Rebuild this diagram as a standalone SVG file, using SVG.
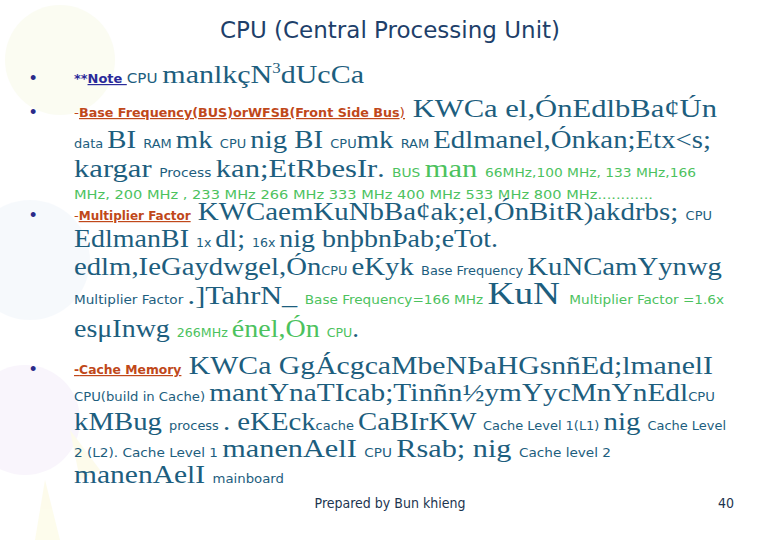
<svg xmlns="http://www.w3.org/2000/svg" width="780" height="540" viewBox="0 0 780 540">
<style>
.t{fill:#1d5e7e}
.s{font-family:"DejaVu Sans Condensed","Liberation Sans",sans-serif;font-size:13px}
.r{font-family:"Liberation Serif",serif;font-size:26px}
.m{font-size:25px}
.g{fill:#4cc25e}
.h{font-family:"DejaVu Sans Condensed","Liberation Sans",sans-serif;font-size:12px;font-weight:bold;fill:#c0481a;text-decoration:underline}
.b{fill:#2a2a8a;font-family:"Liberation Sans",sans-serif;font-size:18px}
</style>
<rect width="780" height="540" fill="#fff"/>
<g id="bg" opacity="0.22">
<circle cx="60" cy="60" r="55" fill="#eef3c8"/>
<circle cx="30" cy="260" r="60" fill="#dbe8f6"/>
<circle cx="25" cy="420" r="55" fill="#e6d4f4"/>
<path d="M45 480 L60 540 L35 540Z M70 430 L100 470 L80 480Z" fill="#f8f0a8"/>
</g>
<text x="390" y="38" text-anchor="middle" font-family="DejaVu Sans,Liberation Sans,sans-serif" font-size="23" fill="#1e3f6a">CPU (Central Processing Unit)</text>
<g>
<text x="30" y="84" class="b">•</text>
<text x="30" y="118" class="b">•</text>
<text x="30" y="221" class="b">•</text>
<text x="30" y="375" class="b">•</text>
</g>
<text x="74" y="83" class="t" textLength="290" lengthAdjust="spacingAndGlyphs"><tspan class="s" font-weight="bold" fill="#2a2a9a" style="font-size:12px">**<tspan text-decoration="underline">Note </tspan></tspan><tspan class="s" style="font-size:14px"> CPU </tspan><tspan class="r m">manlkçN</tspan><tspan class="r" style="font-size:14px" dy="-10">3</tspan><tspan class="r m" dy="10">dUcCa</tspan></text>
<text x="74" y="117" class="t" textLength="643" lengthAdjust="spacingAndGlyphs"><tspan class="s" fill="#c0481a">-</tspan><tspan class="h">Base Frequency(BUS)orWFSB(Front Side Bus</tspan><tspan class="s" fill="#c0481a" text-decoration="underline">)</tspan><tspan class="r"> KWCa el,ÓnEdlbBa¢Ún</tspan></text>
<text x="74" y="148" class="t" textLength="637" lengthAdjust="spacingAndGlyphs"><tspan class="s">data </tspan><tspan class="r">BI </tspan><tspan class="s">RAM </tspan><tspan class="r">mk </tspan><tspan class="s">CPU </tspan><tspan class="r">nig BI </tspan><tspan class="s">CPU</tspan><tspan class="r">mk </tspan><tspan class="s">RAM </tspan><tspan class="r">Edlmanel,Ónkan;Etx&lt;s;</tspan></text>
<text x="74" y="177" class="t" textLength="622" lengthAdjust="spacingAndGlyphs"><tspan class="r">kargar </tspan><tspan class="s">Process </tspan><tspan class="r">kan;EtRbesIr</tspan><tspan class="r m">. </tspan><tspan class="s g">BUS </tspan><tspan class="r g">man </tspan><tspan class="s g">66MHz,100 MHz,  133 MHz,166</tspan></text>
<text x="74" y="199" class="s g" textLength="579" lengthAdjust="spacingAndGlyphs">MHz, 200 MHz , 233 MHz  266 MHz 333 MHz 400 MHz 533 MHz 800 MHz............</text>
<text x="74" y="220" class="t" textLength="638" lengthAdjust="spacingAndGlyphs"><tspan class="s" fill="#c0481a">-</tspan><tspan class="h">Multiplier Factor</tspan><tspan class="r"> KWCaemKuNbBa¢ak;el,ÓnBitR)akdrbs; </tspan><tspan class="s">CPU</tspan></text>
<text x="74" y="247" class="t" textLength="424" lengthAdjust="spacingAndGlyphs"><tspan class="r">EdlmanBI </tspan><tspan class="s">1x </tspan><tspan class="r">dl; </tspan><tspan class="s">16x </tspan><tspan class="r">nig bnþbnÞab;eTot.</tspan></text>
<text x="74" y="275" class="t" textLength="648" lengthAdjust="spacingAndGlyphs"><tspan class="r">edlm,IeGaydwgel,Ón</tspan><tspan class="s">CPU </tspan><tspan class="r">eKyk </tspan><tspan class="s">Base Frequency </tspan><tspan class="r">KuNCamYynwg</tspan></text>
<text x="74" y="304" class="t" textLength="650" lengthAdjust="spacingAndGlyphs"><tspan class="s">Multiplier Factor </tspan><tspan class="r">.]TahrN_ </tspan><tspan class="s g">Base Frequency=166 MHz </tspan><tspan class="r" style="font-size:32px">KuN </tspan><tspan class="s g">Multiplier Factor  =1.6x</tspan></text>
<text x="74" y="337" class="t" textLength="285" lengthAdjust="spacingAndGlyphs"><tspan class="r">esμInwg </tspan><tspan class="s g">266MHz </tspan><tspan class="r g">énel,Ón </tspan><tspan class="s g">CPU</tspan><tspan class="r m">.</tspan></text>
<text x="74" y="374" class="t" textLength="639" lengthAdjust="spacingAndGlyphs"><tspan class="h" text-decoration="none">-</tspan><tspan class="h">Cache Memory</tspan><tspan class="r"> KWCa GgÁcgcaMbeNÞaHGsnñEd;lmanelI</tspan></text>
<text x="74" y="401" class="t" textLength="641" lengthAdjust="spacingAndGlyphs"><tspan class="s">CPU(build in Cache) </tspan><tspan class="r">mantYnaTIcab;Tinñn½ymYycMnYnEdl</tspan><tspan class="s">CPU</tspan></text>
<text x="74" y="430" class="t" textLength="652" lengthAdjust="spacingAndGlyphs"><tspan class="r">kMBug </tspan><tspan class="s">process </tspan><tspan class="r">. eKEck</tspan><tspan class="s">cache </tspan><tspan class="r">CaBIrKW </tspan><tspan class="s">Cache Level 1(L1) </tspan><tspan class="r">nig </tspan><tspan class="s">Cache Level</tspan></text>
<text x="74" y="457" class="t" textLength="537" lengthAdjust="spacingAndGlyphs"><tspan class="s">2 (L2). Cache Level 1 </tspan><tspan class="r">manenAelI  </tspan><tspan class="s">CPU </tspan><tspan class="r">Rsab; nig </tspan><tspan class="s">Cache level 2</tspan></text>
<text x="74" y="483" class="t" textLength="210" lengthAdjust="spacingAndGlyphs"><tspan class="r">manenAelI </tspan><tspan class="s">mainboard</tspan></text>
<text x="390" y="508" text-anchor="middle" font-family="DejaVu Sans Condensed,Liberation Sans,sans-serif" font-size="14" fill="#1d3550">Prepared by Bun khieng</text>
<text x="734" y="508" text-anchor="end" font-family="DejaVu Sans Condensed,Liberation Sans,sans-serif" font-size="14" fill="#1d3550">40</text>
</svg>
